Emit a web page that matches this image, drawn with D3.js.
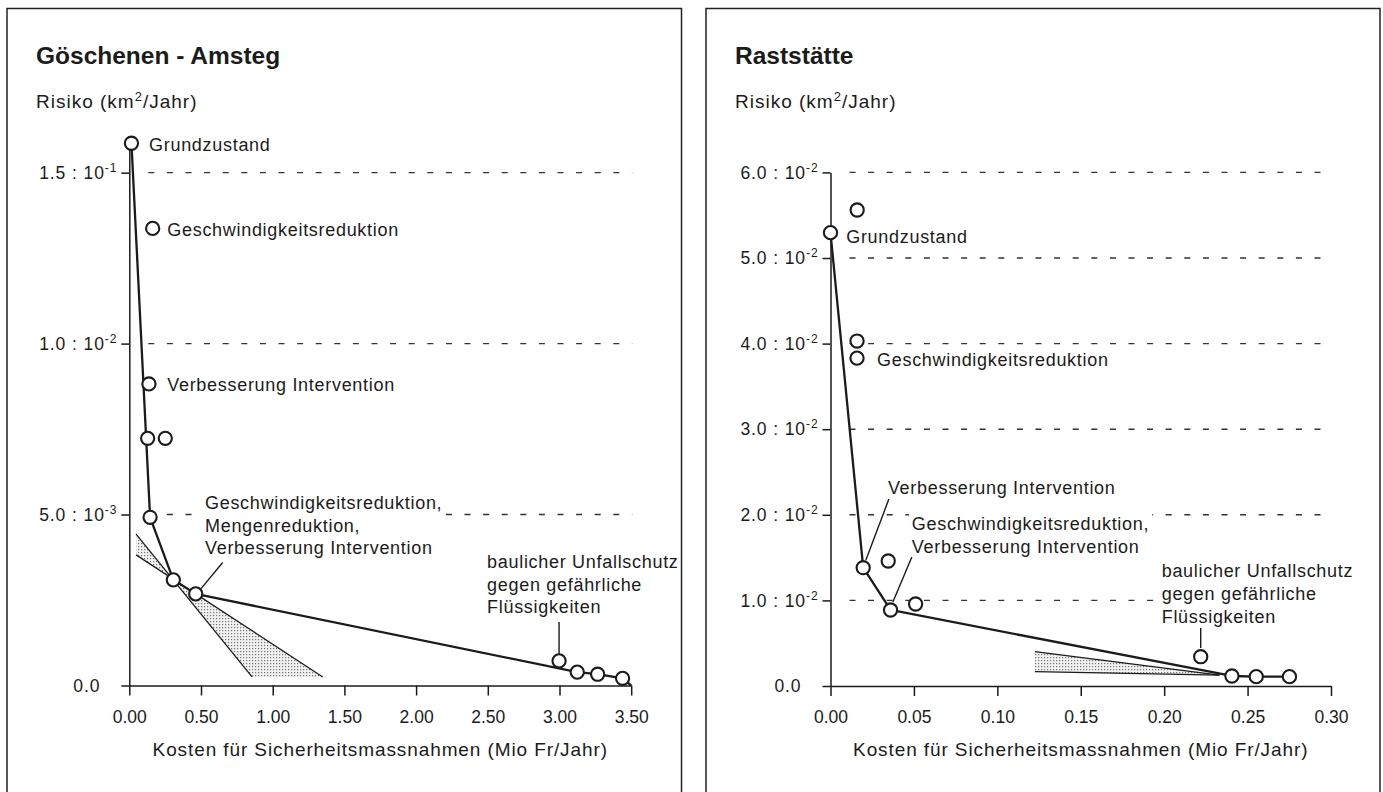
<!DOCTYPE html>
<html>
<head>
<meta charset="utf-8">
<script src="https://d3js.org/d3.v7.min.js"></script>
<style>
  body { margin: 0; background: #fff; }
  text { font-family: "Liberation Sans", Arial, Helvetica, sans-serif; fill: #1b1b1b; }
</style>
</head>
<body>
<script>
// ---------- data ----------
// Göschenen - Amsteg (costs in Mio Fr/Jahr, risk in km2/Jahr)
var leftTitle = "Göschenen - Amsteg";
var leftCost = [0.015, 0.163, 0.137, 0.128, 0.251, 0.145, 0.307, 0.463, 2.997, 3.124, 3.266, 3.44];
var leftRisk = [0.01586, 0.01337, 0.00882, 0.00723, 0.00723, 0.00492, 0.00309, 0.00268, 0.00072, 0.00039, 0.00033, 0.00021];
var leftFrontierCost = [0.015, 0.145, 0.307, 0.463, 3.124, 3.266, 3.44, 3.5];
var leftFrontierRisk = [0.01586, 0.00492, 0.00309, 0.00268, 0.00039, 0.00033, 0.00021, 0];
var leftWedgeA = [[0.047, 0.00443], [0.856, 0.00025]];
var leftWedgeB = [[0.047, 0.00382], [1.349, 0.00025]];
var leftXTicks = [0, 0.5, 1, 1.5, 2, 2.5, 3, 3.5];
var leftYTicks = [0, 0.005, 0.01, 0.015];
var leftYMant = ["0.0", "5.0", "1.0", "1.5"];
var leftYExp = [null, "-3", "-2", "-1"];
var leftNotes = [["Grundzustand"], ["Geschwindigkeitsreduktion"], ["Verbesserung Intervention"],
  ["Geschwindigkeitsreduktion,", "Mengenreduktion,", "Verbesserung Intervention"],
  ["baulicher Unfallschutz", "gegen gefährliche", "Flüssigkeiten"]];
var leftNotePoint = [0, 1, 2, 7, 8];

// Raststätte
var rightTitle = "Raststätte";
var rightCost = [0, 0.016, 0.0159, 0.0159, 0.0196, 0.0346, 0.036, 0.051, 0.2219, 0.2406, 0.2552, 0.2751];
var rightRisk = [0.05296, 0.05561, 0.0403, 0.0383, 0.01382, 0.0146, 0.00888, 0.00958, 0.00342, 0.00117, 0.00109, 0.00109];
var rightFrontierCost = [0, 0.0196, 0.036, 0.2406, 0.2552, 0.2751];
var rightFrontierRisk = [0.05296, 0.01382, 0.00888, 0.00117, 0.00109, 0.00109];
var rightWedgeA = [[0.1225, 0.00401], [0.2332, 0.00128]];
var rightWedgeB = [[0.1225, 0.00167], [0.2332, 0.00128]];
var rightXTicks = [0, 0.05, 0.1, 0.15, 0.2, 0.25, 0.3];
var rightYTicks = [0, 0.01, 0.02, 0.03, 0.04, 0.05, 0.06];
var rightYMant = ["0.0", "1.0", "2.0", "3.0", "4.0", "5.0", "6.0"];
var rightYExp = [null, "-2", "-2", "-2", "-2", "-2", "-2"];
var rightNotes = [["Grundzustand"], ["Geschwindigkeitsreduktion"], ["Verbesserung Intervention"],
  ["Geschwindigkeitsreduktion,", "Verbesserung Intervention"],
  ["baulicher Unfallschutz", "gegen gefährliche", "Flüssigkeiten"]];
var rightNotePoint = [0, 3, 4, 6, 8];

var yLabel = "Risiko (km";
var xLabel = "Kosten für Sicherheitsmassnahmen (Mio Fr/Jahr)";

var ink = "#1b1b1b";

var svg = d3.select("body").append("svg")
    .attr("width", 1383)
    .attr("height", 792);

// dotted fill used for the wedges
var pat = svg.append("defs").append("pattern")
    .attr("id", "stipple")
    .attr("width", 3).attr("height", 3)
    .attr("patternUnits", "userSpaceOnUse");
pat.append("rect").attr("width", 3).attr("height", 3).attr("fill", "#f1f1f1");
pat.append("rect").attr("width", 1.2).attr("height", 1.2).attr("fill", "#777");

function drawPanel(p) {
  var g = svg.append("g");

  var x = d3.scaleLinear().domain(p.xDomain).range(p.xRange);
  var y = d3.scaleLinear().domain(p.yDomain).range(p.yRange);

  g.append("text").text(p.title)
    .attr("x", p.frame[0] + 29).attr("y", 64)
    .style("font-size", "24.5px").style("font-weight", "bold");

  var yl = g.append("text")
    .attr("x", p.frame[0] + 29).attr("y", 108)
    .style("font-size", "19px").style("letter-spacing", "1px");
  yl.append("tspan").text(yLabel);
  yl.append("tspan").text("2").attr("dy", -7).style("font-size", "13px");
  yl.append("tspan").text("/Jahr)").attr("dy", 7);

  // dashed gridlines
  g.selectAll(".grid")
    .data(p.yTicks.filter(function(d) { return d > 0; }))
    .enter().append("line")
    .attr("x1", x(0) + 19).attr("x2", p.xRange[1] + 1)
    .attr("y1", function(d) { return y(d); })
    .attr("y2", function(d) { return y(d); })
    .attr("stroke", "#333").attr("stroke-width", 1.4)
    .attr("stroke-dasharray", "6,12.6");

  // labels (white box behind hides the dashes they sit on)
  var notes = g.append("g");
  p.notes.forEach(function(lines, i) {
    var px = x(p.cost[p.notePoint[i]]), py = y(p.risk[p.notePoint[i]]);
    var off = p.noteOffset[i];
    var t = notes.append("text")
      .attr("x", px + off[0]).attr("y", py + off[1])
      .style("font-size", "18px").style("letter-spacing", "0.7px");
    lines.forEach(function(s, k) {
      t.append("tspan").text(s)
        .attr("x", px + off[0]).attr("y", py + off[1] + k * 22.8);
    });
    var bb = t.node().getBBox();
    notes.insert("rect", "text")
      .attr("x", bb.x - 3).attr("y", bb.y - 2)
      .attr("width", bb.width + 6).attr("height", bb.height + 4)
      .attr("fill", "#fff");
    var ld = p.leaders[i];
    if (ld) {
      g.append("line")
        .attr("x1", px + ld[0][0]).attr("y1", py + ld[0][1])
        .attr("x2", px + ld[1][0]).attr("y2", py + ld[1][1])
        .attr("stroke", ink).attr("stroke-width", 1.4);
    }
  });

  // axes
  var ax = g.append("g")
    .attr("transform", "translate(0," + y(0) + ")")
    .call(d3.axisBottom(x).tickValues(p.xTicks).tickSize(10).tickSizeOuter(0)
      .tickPadding(15).tickFormat(d3.format(".2f")));
  var ay = g.append("g")
    .attr("transform", "translate(" + x(0) + ",0)")
    .call(d3.axisLeft(y).tickValues(p.yTicks).tickSize(8).tickSizeOuter(0)
      .tickPadding(4).tickFormat(""));
  [ax, ay].forEach(function(a) {
    a.attr("font-size", null).attr("font-family", null);
    a.selectAll("path, line").attr("stroke", ink).attr("stroke-width", 1.5);
    a.selectAll("text").attr("fill", ink).style("font-size", "17.5px");
  });
  ay.selectAll(".tick text").each(function(d, i) {
    var t = d3.select(this).style("letter-spacing", "0.9px");
    t.append("tspan").text(p.yMant[i] + (p.yExp[i] ? " : 10" : ""));
    if (p.yExp[i]) {
      t.append("tspan").text(p.yExp[i]).attr("dy", -7).style("font-size", "12px");
    } else {
      t.attr("dx", -17);
    }
  });

  g.append("text").text(xLabel)
    .attr("x", (p.xRange[0] + p.xRange[1]) / 2).attr("y", 756)
    .attr("text-anchor", "middle")
    .style("font-size", "19px").style("letter-spacing", "0.9px");

  // shaded wedges
  var w = [p.wedgeA[0], p.wedgeA[1], p.wedgeB[1], p.wedgeB[0]];
  g.append("path")
    .attr("d", "M" + w.map(function(d) { return x(d[0]) + "," + y(d[1]); }).join("L") + "Z")
    .attr("fill", "url(#stipple)").attr("stroke", "none");
  [p.wedgeA, p.wedgeB].forEach(function(l) {
    g.append("line")
      .attr("x1", x(l[0][0])).attr("y1", y(l[0][1]))
      .attr("x2", x(l[1][0])).attr("y2", y(l[1][1]))
      .attr("stroke", ink).attr("stroke-width", 1.3);
  });

  // efficient frontier
  var line = d3.line()
    .x(function(d, i) { return x(p.frontierCost[i]); })
    .y(function(d, i) { return y(p.frontierRisk[i]); });
  g.append("path")
    .attr("d", line(p.frontierCost))
    .attr("fill", "none").attr("stroke", ink).attr("stroke-width", 2.3)
    .attr("stroke-linejoin", "round");

  // measures
  g.selectAll(".pt")
    .data(p.cost)
    .enter().append("circle")
    .attr("cx", function(d) { return x(d); })
    .attr("cy", function(d, i) { return y(p.risk[i]); })
    .attr("r", 6.6)
    .attr("fill", "#fff").attr("stroke", ink).attr("stroke-width", 2.1);

  // frame (open at the bottom edge of the page), drawn last so nothing covers it
  g.append("rect")
    .attr("x", p.frame[0]).attr("y", 8.5)
    .attr("width", p.frame[1] - p.frame[0]).attr("height", 820)
    .attr("fill", "none").attr("stroke", "#222").attr("stroke-width", 1.5);
}

drawPanel({
  frame: [7, 681.5],
  title: leftTitle,
  xDomain: [0, 3.5], xRange: [129.3, 631.2],
  yDomain: [0, 0.0158], yRange: [685.5, 145.3],
  xTicks: leftXTicks, yTicks: leftYTicks, yMant: leftYMant, yExp: leftYExp,
  cost: leftCost, risk: leftRisk,
  frontierCost: leftFrontierCost, frontierRisk: leftFrontierRisk,
  wedgeA: leftWedgeA, wedgeB: leftWedgeB,
  notes: leftNotes, notePoint: leftNotePoint,
  noteOffset: [[17.6, 7.7], [14.6, 7.7], [18.3, 7], [9.3, -85], [-72, -93]],
  leaders: [null, null, null, [[27, -31.3], [4.3, -4]], [[0, -39], [0, -7]]]
});

drawPanel({
  frame: [706, 1380],
  title: rightTitle,
  xDomain: [0, 0.3], xRange: [830.5, 1331],
  yDomain: [0, 0.06], yRange: [686, 172.4],
  xTicks: rightXTicks, yTicks: rightYTicks, yMant: rightYMant, yExp: rightYExp,
  cost: rightCost, risk: rightRisk,
  frontierCost: rightFrontierCost, frontierRisk: rightFrontierRisk,
  wedgeA: rightWedgeA, wedgeB: rightWedgeB,
  notes: rightNotes, notePoint: rightNotePoint,
  noteOffset: [[15.7, 10.6], [20, 8], [24.7, -73.7], [21.3, -80], [-39, -79.7]],
  leaders: [null, null, [[25.7, -68.7], [2.7, -7.7]], [[21.3, -53], [2.3, -8]], [[0, -28.7], [0, -8.7]]]
});
</script>
</body>
</html>
